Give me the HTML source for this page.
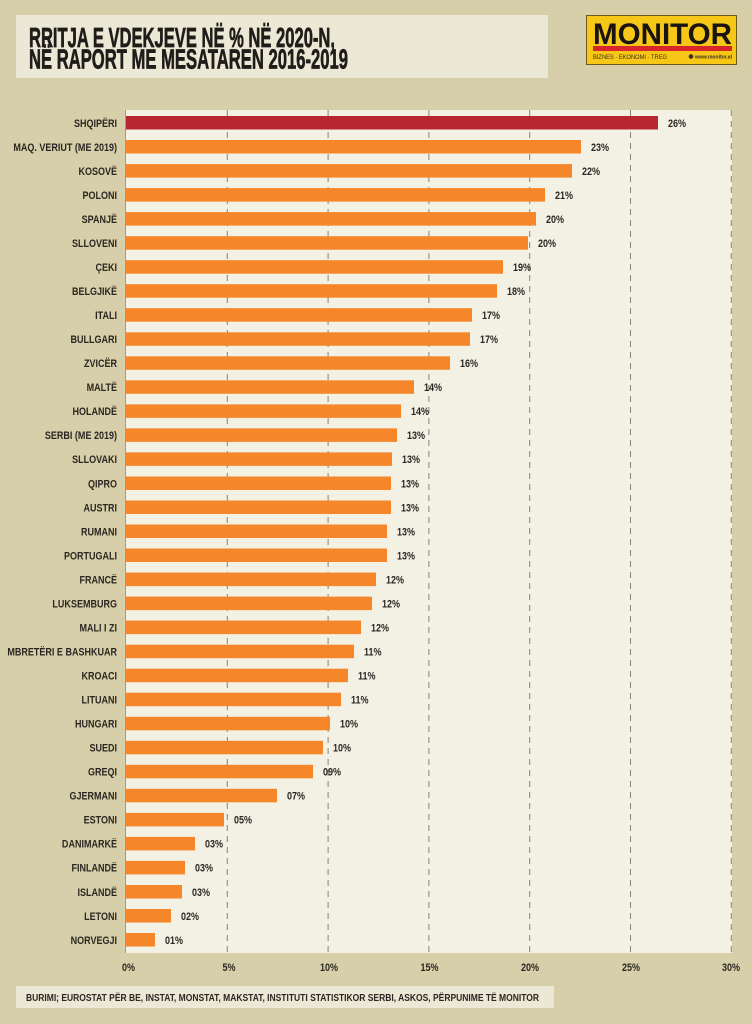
<!DOCTYPE html>
<html>
<head>
<meta charset="utf-8">
<style>
  html,body{margin:0;padding:0;background:#d7cfa9;}
  svg{display:block;}
  text{font-family:"Liberation Sans","DejaVu Sans",sans-serif;}
</style>
</head>
<body>
<svg width="752" height="1024" viewBox="0 0 752 1024" xmlns="http://www.w3.org/2000/svg">
  <rect x="0" y="0" width="752" height="1024" fill="#d7cfa9"/>

  <!-- Title box -->
  <rect x="16" y="15" width="532" height="63" fill="#ece8d6"/>
  <text x="29" y="47" font-size="27.5" font-weight="bold" fill="#1f1c19" stroke="#1f1c19" stroke-width="0.7" textLength="306" lengthAdjust="spacingAndGlyphs">RRITJA E VDEKJEVE NË % NË 2020-N,</text>
  <text x="29" y="68.5" font-size="27.5" font-weight="bold" fill="#1f1c19" stroke="#1f1c19" stroke-width="0.7" textLength="319" lengthAdjust="spacingAndGlyphs">NË RAPORT ME MESATAREN 2016-2019</text>

  <!-- Logo -->
  <rect x="586.5" y="15.5" width="150" height="49" fill="#f6c716" stroke="#6b5a1a" stroke-width="1"/>
  <text x="593" y="44" font-size="30" font-weight="bold" fill="#1a1410" textLength="139" lengthAdjust="spacingAndGlyphs">MONITOR</text>
  <rect x="593" y="46" width="139" height="5" fill="#d8262c"/>
  <text x="593" y="59" font-size="6" fill="#3a3020" textLength="74" lengthAdjust="spacingAndGlyphs">BIZNES  ·  EKONOMI  ·  TREG</text>
  <circle cx="691" cy="56.5" r="2.3" fill="#3a3020"/>
  <text x="695" y="58.5" font-size="5" font-weight="bold" fill="#3a3020" textLength="37" lengthAdjust="spacingAndGlyphs">www.monitor.al</text>

  <!-- Plot area -->
  <rect x="125" y="110" width="607" height="843" fill="#f3f0e4"/>

  <!-- Gridlines -->
  <g stroke="#8a8274" stroke-width="1" stroke-dasharray="6 5">
    <line x1="227.3" y1="110" x2="227.3" y2="953"/>
    <line x1="328.1" y1="110" x2="328.1" y2="953"/>
    <line x1="428.9" y1="110" x2="428.9" y2="953"/>
    <line x1="529.7" y1="110" x2="529.7" y2="953"/>
    <line x1="630.5" y1="110" x2="630.5" y2="953"/>
    <line x1="731.3" y1="110" x2="731.3" y2="953"/>
  </g>
  <line x1="125.5" y1="110" x2="125.5" y2="953" stroke="#a39a88" stroke-width="1"/>

  <!-- Bars -->
  <g>
    <rect x="126" y="116.0" width="532" height="13.5" fill="#b8272f"/>
    <rect x="126" y="140.0" width="455" height="13.5" fill="#f5862a"/>
    <rect x="126" y="164.1" width="446" height="13.5" fill="#f5862a"/>
    <rect x="126" y="188.1" width="419" height="13.5" fill="#f5862a"/>
    <rect x="126" y="212.1" width="410" height="13.5" fill="#f5862a"/>
    <rect x="126" y="236.2" width="402" height="13.5" fill="#f5862a"/>
    <rect x="126" y="260.2" width="377" height="13.5" fill="#f5862a"/>
    <rect x="126" y="284.2" width="371" height="13.5" fill="#f5862a"/>
    <rect x="126" y="308.2" width="346" height="13.5" fill="#f5862a"/>
    <rect x="126" y="332.3" width="344" height="13.5" fill="#f5862a"/>
    <rect x="126" y="356.3" width="324" height="13.5" fill="#f5862a"/>
    <rect x="126" y="380.3" width="288" height="13.5" fill="#f5862a"/>
    <rect x="126" y="404.4" width="275" height="13.5" fill="#f5862a"/>
    <rect x="126" y="428.4" width="271" height="13.5" fill="#f5862a"/>
    <rect x="126" y="452.4" width="266" height="13.5" fill="#f5862a"/>
    <rect x="126" y="476.5" width="265" height="13.5" fill="#f5862a"/>
    <rect x="126" y="500.5" width="265" height="13.5" fill="#f5862a"/>
    <rect x="126" y="524.5" width="261" height="13.5" fill="#f5862a"/>
    <rect x="126" y="548.5" width="261" height="13.5" fill="#f5862a"/>
    <rect x="126" y="572.6" width="250" height="13.5" fill="#f5862a"/>
    <rect x="126" y="596.6" width="246" height="13.5" fill="#f5862a"/>
    <rect x="126" y="620.6" width="235" height="13.5" fill="#f5862a"/>
    <rect x="126" y="644.7" width="228" height="13.5" fill="#f5862a"/>
    <rect x="126" y="668.7" width="222" height="13.5" fill="#f5862a"/>
    <rect x="126" y="692.7" width="215" height="13.5" fill="#f5862a"/>
    <rect x="126" y="716.8" width="204" height="13.5" fill="#f5862a"/>
    <rect x="126" y="740.8" width="197" height="13.5" fill="#f5862a"/>
    <rect x="126" y="764.8" width="187" height="13.5" fill="#f5862a"/>
    <rect x="126" y="788.8" width="151" height="13.5" fill="#f5862a"/>
    <rect x="126" y="812.9" width="98" height="13.5" fill="#f5862a"/>
    <rect x="126" y="836.9" width="69" height="13.5" fill="#f5862a"/>
    <rect x="126" y="860.9" width="59" height="13.5" fill="#f5862a"/>
    <rect x="126" y="885.0" width="56" height="13.5" fill="#f5862a"/>
    <rect x="126" y="909.0" width="45" height="13.5" fill="#f5862a"/>
    <rect x="126" y="933.0" width="29" height="13.5" fill="#f5862a"/>
  </g>

  <!-- Country labels -->
  <g font-size="11" font-weight="bold" fill="#2b2622" text-anchor="end">
    <text transform="translate(117,126.8) scale(0.82,1)">SHQIPËRI</text>
    <text transform="translate(117,150.8) scale(0.82,1)">MAQ. VERIUT (ME 2019)</text>
    <text transform="translate(117,174.9) scale(0.82,1)">KOSOVË</text>
    <text transform="translate(117,198.9) scale(0.82,1)">POLONI</text>
    <text transform="translate(117,222.9) scale(0.82,1)">SPANJË</text>
    <text transform="translate(117,247.0) scale(0.82,1)">SLLOVENI</text>
    <text transform="translate(117,271.0) scale(0.82,1)">ÇEKI</text>
    <text transform="translate(117,295.0) scale(0.82,1)">BELGJIKË</text>
    <text transform="translate(117,319.0) scale(0.82,1)">ITALI</text>
    <text transform="translate(117,343.1) scale(0.82,1)">BULLGARI</text>
    <text transform="translate(117,367.1) scale(0.82,1)">ZVICËR</text>
    <text transform="translate(117,391.1) scale(0.82,1)">MALTË</text>
    <text transform="translate(117,415.2) scale(0.82,1)">HOLANDË</text>
    <text transform="translate(117,439.2) scale(0.82,1)">SERBI (ME 2019)</text>
    <text transform="translate(117,463.2) scale(0.82,1)">SLLOVAKI</text>
    <text transform="translate(117,487.3) scale(0.82,1)">QIPRO</text>
    <text transform="translate(117,511.3) scale(0.82,1)">AUSTRI</text>
    <text transform="translate(117,535.3) scale(0.82,1)">RUMANI</text>
    <text transform="translate(117,559.3) scale(0.82,1)">PORTUGALI</text>
    <text transform="translate(117,583.4) scale(0.82,1)">FRANCË</text>
    <text transform="translate(117,607.4) scale(0.82,1)">LUKSEMBURG</text>
    <text transform="translate(117,631.4) scale(0.82,1)">MALI I ZI</text>
    <text transform="translate(117,655.5) scale(0.82,1)">MBRETËRI E BASHKUAR</text>
    <text transform="translate(117,679.5) scale(0.82,1)">KROACI</text>
    <text transform="translate(117,703.5) scale(0.82,1)">LITUANI</text>
    <text transform="translate(117,727.6) scale(0.82,1)">HUNGARI</text>
    <text transform="translate(117,751.6) scale(0.82,1)">SUEDI</text>
    <text transform="translate(117,775.6) scale(0.82,1)">GREQI</text>
    <text transform="translate(117,799.6) scale(0.82,1)">GJERMANI</text>
    <text transform="translate(117,823.7) scale(0.82,1)">ESTONI</text>
    <text transform="translate(117,847.7) scale(0.82,1)">DANIMARKË</text>
    <text transform="translate(117,871.7) scale(0.82,1)">FINLANDË</text>
    <text transform="translate(117,895.8) scale(0.82,1)">ISLANDË</text>
    <text transform="translate(117,919.8) scale(0.82,1)">LETONI</text>
    <text transform="translate(117,943.8) scale(0.82,1)">NORVEGJI</text>
  </g>

  <!-- Value labels -->
  <g font-size="11" font-weight="bold" fill="#2b2622">
    <text transform="translate(668,126.8) scale(0.82,1)">26%</text>
    <text transform="translate(591,150.8) scale(0.82,1)">23%</text>
    <text transform="translate(582,174.9) scale(0.82,1)">22%</text>
    <text transform="translate(555,198.9) scale(0.82,1)">21%</text>
    <text transform="translate(546,222.9) scale(0.82,1)">20%</text>
    <text transform="translate(538,247.0) scale(0.82,1)">20%</text>
    <text transform="translate(513,271.0) scale(0.82,1)">19%</text>
    <text transform="translate(507,295.0) scale(0.82,1)">18%</text>
    <text transform="translate(482,319.0) scale(0.82,1)">17%</text>
    <text transform="translate(480,343.1) scale(0.82,1)">17%</text>
    <text transform="translate(460,367.1) scale(0.82,1)">16%</text>
    <text transform="translate(424,391.1) scale(0.82,1)">14%</text>
    <text transform="translate(411,415.2) scale(0.82,1)">14%</text>
    <text transform="translate(407,439.2) scale(0.82,1)">13%</text>
    <text transform="translate(402,463.2) scale(0.82,1)">13%</text>
    <text transform="translate(401,487.3) scale(0.82,1)">13%</text>
    <text transform="translate(401,511.3) scale(0.82,1)">13%</text>
    <text transform="translate(397,535.3) scale(0.82,1)">13%</text>
    <text transform="translate(397,559.3) scale(0.82,1)">13%</text>
    <text transform="translate(386,583.4) scale(0.82,1)">12%</text>
    <text transform="translate(382,607.4) scale(0.82,1)">12%</text>
    <text transform="translate(371,631.4) scale(0.82,1)">12%</text>
    <text transform="translate(364,655.5) scale(0.82,1)">11%</text>
    <text transform="translate(358,679.5) scale(0.82,1)">11%</text>
    <text transform="translate(351,703.5) scale(0.82,1)">11%</text>
    <text transform="translate(340,727.6) scale(0.82,1)">10%</text>
    <text transform="translate(333,751.6) scale(0.82,1)">10%</text>
    <text transform="translate(323,775.6) scale(0.82,1)">09%</text>
    <text transform="translate(287,799.6) scale(0.82,1)">07%</text>
    <text transform="translate(234,823.7) scale(0.82,1)">05%</text>
    <text transform="translate(205,847.7) scale(0.82,1)">03%</text>
    <text transform="translate(195,871.7) scale(0.82,1)">03%</text>
    <text transform="translate(192,895.8) scale(0.82,1)">03%</text>
    <text transform="translate(181,919.8) scale(0.82,1)">02%</text>
    <text transform="translate(165,943.8) scale(0.82,1)">01%</text>
  </g>

  <!-- Axis tick labels -->
  <g font-size="11" font-weight="bold" fill="#2b2622" text-anchor="middle">
    <text transform="translate(128.5,971) scale(0.82,1)">0%</text>
    <text transform="translate(229,971) scale(0.82,1)">5%</text>
    <text transform="translate(329,971) scale(0.82,1)">10%</text>
    <text transform="translate(429.5,971) scale(0.82,1)">15%</text>
    <text transform="translate(530,971) scale(0.82,1)">20%</text>
    <text transform="translate(631,971) scale(0.82,1)">25%</text>
    <text transform="translate(731,971) scale(0.82,1)">30%</text>
  </g>

  <!-- Footer -->
  <rect x="16" y="986" width="538" height="22" fill="#ece8d6"/>
  <text x="26" y="1001" font-size="10.5" font-weight="bold" fill="#2b2622" textLength="513" lengthAdjust="spacingAndGlyphs">BURIMI; EUROSTAT PËR BE, INSTAT, MONSTAT, MAKSTAT, INSTITUTI STATISTIKOR SERBI, ASKOS, PËRPUNIME TË MONITOR</text>
</svg>
</body>
</html>
